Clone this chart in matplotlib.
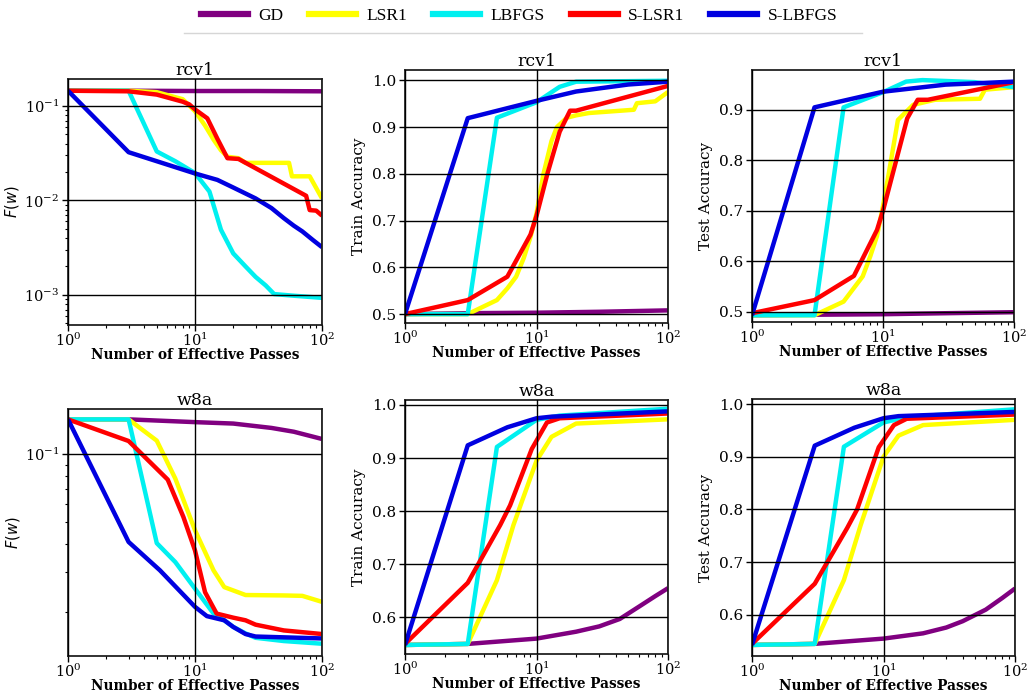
import matplotlib
matplotlib.use("Agg")
import matplotlib.pyplot as plt
from matplotlib.lines import Line2D
from matplotlib.ticker import LogLocator, NullFormatter, MultipleLocator

plt.rcParams["font.family"] = "DejaVu Serif"
plt.rcParams["mathtext.fontset"] = "dejavuserif"

METHODS = ["GD", "LSR1", "LBFGS", "S-LSR1", "S-LBFGS"]
COLORS = ["#800080", "#ffff00", "#00f0f0", "#ff0000", "#0000e0"]

# ---- rcv1: objective value ----
rcv1_loss = {
    "GD": ([1, 3, 10, 30, 100], [0.145, 0.145, 0.144, 0.144, 0.143]),
    "LSR1": ([1, 3, 5, 8, 10, 12, 14, 16, 18, 22, 25, 55, 58, 80, 100],
             [0.145, 0.145, 0.14, 0.118, 0.088, 0.062, 0.044, 0.034, 0.029,
              0.028, 0.025, 0.025, 0.018, 0.018, 0.0105]),
    "LBFGS": ([1, 3, 5, 7, 10, 13, 16, 20, 25, 30, 36, 42, 60, 100],
              [0.145, 0.145, 0.033, 0.026, 0.0195, 0.0124, 0.0049, 0.00275,
               0.0020, 0.00155, 0.00126, 0.00102, 0.00098, 0.00093]),
    "S-LSR1": ([1, 3, 5, 8, 9, 10, 12.5, 15, 18, 22, 75, 80, 90, 100],
               [0.145, 0.143, 0.132, 0.111, 0.104, 0.092, 0.074, 0.045, 0.028,
                0.0275, 0.0112, 0.0079, 0.0078, 0.0069]),
    "S-LBFGS": ([1, 3, 10, 15, 20, 30, 40, 50, 60, 70, 85, 100],
                [0.145, 0.0324, 0.0193, 0.0165, 0.0137, 0.0105, 0.0083,
                 0.0065, 0.0054, 0.0047, 0.0038, 0.0032]),
}

# ---- rcv1: train accuracy ----
rcv1_train = {
    "GD": ([1, 3, 10, 30, 100], [0.500, 0.502, 0.503, 0.505, 0.508]),
    "LSR1": ([1, 3, 5, 6, 7, 8, 9, 10, 11.3, 13, 14.3, 17, 20, 25, 55, 58, 80, 100],
             [0.5, 0.5, 0.53, 0.555, 0.58, 0.62, 0.665, 0.715, 0.8, 0.87, 0.9,
              0.92, 0.925, 0.93, 0.937, 0.951, 0.955, 0.975]),
    "LBFGS": ([1, 3, 5, 10, 15, 20, 100],
              [0.5, 0.5, 0.92, 0.953, 0.986, 0.997, 0.999]),
    "S-LSR1": ([1, 3, 6, 9, 10, 12.1, 15, 18, 20, 100],
               [0.5, 0.53, 0.58, 0.67, 0.71, 0.8, 0.89, 0.935, 0.935, 0.988]),
    "S-LBFGS": ([1, 3, 10, 20, 50, 100],
                [0.5, 0.919, 0.956, 0.976, 0.991, 0.997]),
}

# ---- rcv1: test accuracy ----
rcv1_test = {
    "GD": ([1, 3, 10, 30, 100], [0.493, 0.494, 0.495, 0.497, 0.499]),
    "LSR1": ([1, 3, 5, 7, 8, 9, 10, 11, 13, 17, 25, 55, 60, 100],
             [0.493, 0.493, 0.52, 0.57, 0.61, 0.65, 0.71, 0.77, 0.88, 0.91,
              0.92, 0.922, 0.94, 0.945]),
    "LBFGS": ([1, 3, 5, 10, 15, 20, 50, 100],
              [0.493, 0.493, 0.905, 0.935, 0.956, 0.959, 0.955, 0.945]),
    "S-LSR1": ([1, 3, 6, 9, 10, 15.3, 18.4, 22, 100],
               [0.497, 0.523, 0.571, 0.662, 0.70, 0.883, 0.92, 0.92, 0.955]),
    "S-LBFGS": ([1, 3, 10, 30, 100], [0.493, 0.905, 0.936, 0.950, 0.956]),
}

# ---- w8a: objective value ----
w8a_loss = {
    "GD": ([1, 3, 10, 20, 40, 60, 100],
           [0.143, 0.143, 0.139, 0.137, 0.131, 0.126, 0.117]),
    "LSR1": ([1, 3, 5, 7, 10, 14, 17, 25, 50, 70, 100],
             [0.143, 0.143, 0.115, 0.078, 0.046, 0.0305, 0.0257, 0.0237,
              0.0236, 0.0235, 0.0221]),
    "LBFGS": ([1, 3, 5, 7, 10, 14, 17, 20, 25, 30, 50, 100],
              [0.143, 0.143, 0.0403, 0.0332, 0.0253, 0.0196, 0.0183, 0.0171,
               0.016, 0.0153, 0.0148, 0.0144]),
    "S-LSR1": ([1, 3, 6.1, 8.1, 10, 12, 14.8, 20, 25, 30, 50, 100],
               [0.143, 0.1146, 0.0772, 0.0527, 0.0374, 0.0244, 0.0196, 0.0188,
                0.0183, 0.0175, 0.0165, 0.0159]),
    "S-LBFGS": ([1, 3, 5.3, 10, 12.4, 17, 20, 25, 30, 100],
                [0.143, 0.0408, 0.0305, 0.021, 0.0191, 0.0183, 0.0171, 0.0159,
                 0.0155, 0.0152]),
}

# ---- w8a: train accuracy ----
w8a_train = {
    "GD": ([1, 3, 10, 20, 30, 43, 60, 80, 100],
           [0.548, 0.55, 0.56, 0.573, 0.583, 0.597, 0.62, 0.64, 0.655]),
    "LSR1": ([1, 3, 5, 6.68, 10, 13, 20, 100],
             [0.548, 0.55, 0.67, 0.774, 0.895, 0.94, 0.965, 0.973]),
    "LBFGS": ([1, 3, 5, 10, 15, 100],
              [0.548, 0.55, 0.921, 0.972, 0.98, 0.993]),
    "S-LSR1": ([1, 3, 5.3, 6.3, 9.2, 12, 15, 100],
               [0.55, 0.665, 0.774, 0.811, 0.917, 0.967, 0.975, 0.984]),
    "S-LBFGS": ([1, 3, 6, 10, 13, 100],
                [0.548, 0.924, 0.958, 0.975, 0.978, 0.988]),
}

# ---- w8a: test accuracy ----
w8a_test = {
    "GD": ([1, 3, 10, 20, 30, 40, 60, 80, 100],
           [0.543, 0.545, 0.555, 0.565, 0.576, 0.588, 0.61, 0.632, 0.65]),
    "LSR1": ([1, 3, 5, 6.7, 10, 13, 20, 100],
             [0.543, 0.545, 0.666, 0.77, 0.9, 0.94, 0.96, 0.97]),
    "LBFGS": ([1, 3, 5, 10, 15, 100],
              [0.543, 0.545, 0.919, 0.965, 0.975, 0.99]),
    "S-LSR1": ([1, 3, 5.3, 6.3, 9.2, 12, 15, 100],
               [0.545, 0.659, 0.765, 0.80, 0.918, 0.96, 0.972, 0.98]),
    "S-LBFGS": ([1, 3, 6, 10, 13, 100],
                [0.543, 0.921, 0.955, 0.973, 0.977, 0.985]),
}

W, H = 1028, 692
fig = plt.figure(figsize=(W / 100, H / 100), dpi=100)


def box(x0, y0, x1, y1):
    return [x0 / W, 1 - y1 / H, (x1 - x0) / W, (y1 - y0) / H]


panels = [
    (rcv1_loss, "rcv1", "$F(w)$", box(68, 79, 322, 325), (4.8e-4, 0.193), True),
    (rcv1_train, "rcv1", "Train Accuracy", box(405, 70, 668, 323), (0.481, 1.022), False),
    (rcv1_test, "rcv1", "Test Accuracy", box(752, 70, 1014, 322), (0.4796, 0.979), False),
    (w8a_loss, "w8a", "$F(w)$", box(68, 409, 322, 656), (0.0127, 0.159), True),
    (w8a_train, "w8a", "Train Accuracy", box(405, 400, 668, 654), (0.531, 1.0094), False),
    (w8a_test, "w8a", "Test Accuracy", box(752, 399, 1015, 656), (0.522, 1.0095), False),
]

for data, title, ylabel, rect, ylim, logy in panels:
    ax = fig.add_axes(rect)
    for name, color in zip(METHODS, COLORS):
        xs, ys = data[name]
        ax.plot(xs, ys, color=color, lw=3.2, solid_capstyle="butt")
    ax.set_xscale("log")
    ax.set_xlim(1, 100)
    if logy:
        ax.set_yscale("log")
        ax.yaxis.set_major_locator(LogLocator(base=10, numticks=10))
        ax.yaxis.set_minor_locator(LogLocator(base=10, subs=range(2, 10), numticks=20))
        ax.yaxis.set_minor_formatter(NullFormatter())
    else:
        ax.yaxis.set_major_locator(MultipleLocator(0.1))
    ax.set_ylim(*ylim)
    ax.grid(True, which="major", color="black", lw=1.0)
    ax.set_axisbelow(False)
    for sp in ax.spines.values():
        sp.set_linewidth(1.3)
        sp.set_color("#222222")
    ax.tick_params(which="major", length=4, width=1, labelsize=11, pad=2.5)
    ax.tick_params(axis="x", which="major", labelsize=10.5, pad=1)
    ax.tick_params(which="minor", length=2.5, width=0.8)
    if logy:
        ax.tick_params(axis="y", which="major", labelsize=10.5)
    ax.set_title(title, fontsize=12.5, pad=3)
    ax.set_xlabel("Number of Effective Passes", fontsize=9.8, labelpad=-1,
                  fontweight="bold")
    if ylabel.startswith("$"):
        ax.set_ylabel(ylabel, fontsize=10.5, math_fontfamily="dejavusans",
                      labelpad=2)
    else:
        ax.set_ylabel(ylabel, fontsize=11, labelpad=4)

handles = [Line2D([], [], color=c, lw=4.5) for c in COLORS]
fig.legend(handles, METHODS, loc="center", bbox_to_anchor=(0.505, 1 - 16 / H),
           ncol=5, frameon=False, handlelength=2.7, handletextpad=0.6,
           columnspacing=1.5, prop={"family": "Liberation Serif", "size": 12.5})
fig.add_artist(Line2D([184 / W, 862 / W], [1 - 33 / H, 1 - 33 / H],
                      color="#d6d6d6", lw=1.0))

fig.savefig("out.png", dpi=100, facecolor="white")
